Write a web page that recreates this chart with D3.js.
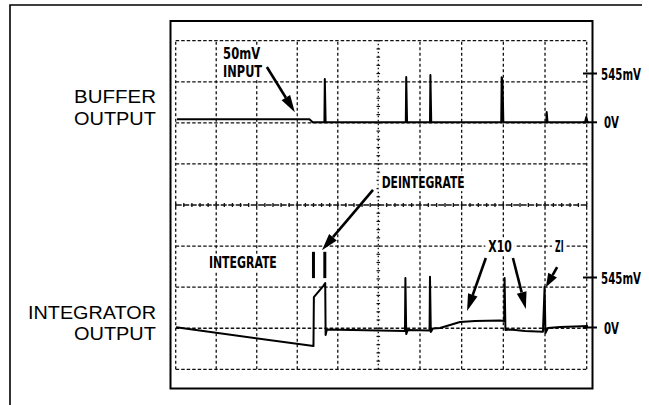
<!DOCTYPE html>
<html><head><meta charset="utf-8">
<script src="https://cdn.jsdelivr.net/npm/d3@7"></script>
<style>html,body{margin:0;padding:0;background:#fff;}svg{display:block;}</style>
</head><body>
<svg id="c" width="649" height="405"></svg>
<script>
// ---- data (time in divisions, voltage in mV) ----
const bufferTime = [0.03, 3.30, 3.38, 3.67, 3.68, 3.70, 5.66, 5.67, 5.69, 6.24, 6.25, 6.27, 7.95, 7.96, 7.98, 8.00, 9.03, 9.04, 9.06, 9.96, 9.99, 10.02, 10.05];
const bufferMv   = [35, 35, 0, 0, 484, 0, 0, 506, 0, 0, 528, 0, 0, 503, 470, 0, 0, 115, 0, 0, 60, 0, 0];
const integTime = [0.01, 3.40, 3.41, 3.64, 3.69, 3.70, 3.73, 5.64, 5.65, 5.67, 5.71, 6.23, 6.24, 6.26, 6.31, 6.48, 6.72, 6.96, 7.32, 7.92, 8.02, 8.03, 8.05, 8.16, 8.52, 8.95, 8.99, 9.01, 9.07, 9.36, 9.72, 10.03];
const integMv   = [2, -202, 332, 452, 485, -82, -22, -38, 540, -71, -27, -33, 554, -49, -11, -5, 27, 60, 71, 76, 71, 540, -27, -22, -38, -46, 445, -60, -5, 5, 11, 16];
const levelTicks = [0, 545];
const levelLabels = ["0V", "545mV"];
const channelNames = [["BUFFER", "OUTPUT"], ["INTEGRATOR", "OUTPUT"]];
const hDivs = d3.range(0, 11);
const vDivs = d3.range(0, 9);
// annotations in grid divisions: [tailT, tailDiv, tipT, tipDiv]
const arrows = [[2.25, 7.36, 2.94, 6.26], [4.87, 4.37, 3.61, 2.90], [7.58, 2.71, 7.13, 1.42], [8.23, 2.71, 8.54, 1.47], [9.29, 2.49, 9.02, 2.00]];
const markerBars = [3.40, 3.68];
const notes = [
  {text: "50mV", t: 1.17, d: 7.55, w: 37},
  {text: "INPUT", t: 1.17, d: 7.12, w: 39},
  {text: "DEINTEGRATE", t: 5.08, d: 4.41, w: 83},
  {text: "INTEGRATE", t: 0.82, d: 2.47, w: 68},
  {text: "X10", t: 7.64, d: 2.86, w: 23.5},
  {text: "ZI", t: 9.24, d: 2.86, w: 8.5}
];

const svg = d3.select("#c");
const gx = d3.scaleLinear().domain([0, 5, 10]).range([175.7, 378.3, 586.7]);
const gy = d3.scaleLinear().domain([0, 8]).range([369.3, 40.7]);
const yBuf = d3.scaleLinear().domain([0, 545]).range([122.3, 73.5]);
const yInt = d3.scaleLinear().domain([0, 545]).range([327.5, 277.5]);

const boldFont = "'Liberation Sans Narrow','Arial Narrow','DejaVu Sans Condensed',sans-serif";
const plainFont = "'Liberation Sans',Arial,sans-serif";
// text fitted to a width by horizontal scaling (keeps real bbox)
function fitText(x, y, str, width, font, size, weight, anchor) {
  const g = svg.append("g");
  const t = g.append("text").attr("x", 0).attr("y", 0)
    .attr("font-family", font).attr("font-size", size).attr("font-weight", weight).text(str);
  const natural = t.node().getComputedTextLength() || width;
  const k = width / natural;
  const x0 = anchor === "end" ? x - width : x;
  g.attr("transform", `translate(${x0},${y}) scale(${k},1)`);
  return g;
}

// outer page frame
svg.append("path").attr("d", "M10,405V5H642").attr("fill", "none").attr("stroke", "#000").attr("stroke-width", 1.6);
// scope frame
svg.append("rect").attr("x", 170.5).attr("y", 21).attr("width", 422).attr("height", 367.5)
  .attr("fill", "none").attr("stroke", "#000").attr("stroke-width", 2);

// grid
const grid = svg.append("g").attr("stroke", "#111").attr("fill", "none");
grid.selectAll("line.v").data(hDivs.filter(d => d !== 5)).join("line")
  .attr("x1", d => gx(d)).attr("x2", d => gx(d)).attr("y1", gy(0)).attr("y2", gy(8))
  .attr("stroke-width", 1.3).attr("stroke-dasharray", "3,2.5");
grid.selectAll("line.h").data(vDivs.filter(d => d !== 4)).join("line")
  .attr("y1", d => gy(d)).attr("y2", d => gy(d)).attr("x1", gx(0)).attr("x2", gx(10))
  .attr("stroke-width", 1.3).attr("stroke-dasharray", "3.5,2");
// center axes with minor ticks
grid.append("line").attr("x1", gx(5)).attr("x2", gx(5)).attr("y1", gy(0)).attr("y2", gy(8))
  .attr("stroke-width", 1.3).attr("stroke-dasharray", "1.5,2.5");
grid.append("line").attr("y1", gy(4)).attr("y2", gy(4)).attr("x1", gx(0)).attr("x2", gx(10))
  .attr("stroke-width", 1.6).attr("stroke-dasharray", "6,1.5");
const minor = d3.range(0, 50.5).map(i => i / 5);
grid.selectAll("line.mx").data(minor).join("line")
  .attr("x1", d => gx(d)).attr("x2", d => gx(d)).attr("y1", gy(4) - 2).attr("y2", gy(4) + 2).attr("stroke-width", 1.3);
const minorY = d3.range(0, 40.5).map(i => i / 5);
grid.selectAll("line.my").data(minorY).join("line")
  .attr("y1", d => gy(d)).attr("y2", d => gy(d)).attr("x1", gx(5) - 1.8).attr("x2", gx(5) + 1.8).attr("stroke-width", 1.2);

// traces
const lineBuf = d3.line().x((d, i) => gx(bufferTime[i])).y(d => yBuf(d));
const lineInt = d3.line().x((d, i) => gx(integTime[i])).y(d => yInt(d));
svg.append("path").attr("d", lineBuf(bufferMv)).attr("fill", "none").attr("stroke", "#000").attr("stroke-width", 2).attr("stroke-linejoin", "round");
svg.append("path").attr("d", lineInt(integMv)).attr("fill", "none").attr("stroke", "#000").attr("stroke-width", 2).attr("stroke-linejoin", "round");

// level ticks and labels on right
[yBuf, yInt].forEach((sc, ci) => {
  levelTicks.forEach((v, i) => {
    svg.append("line").attr("x1", 583).attr("x2", 597).attr("y1", sc(v)).attr("y2", sc(v)).attr("stroke", "#000").attr("stroke-width", 2);
    fitText(i ? 601 : 604, sc(v) + 6, levelLabels[i], i ? 40 : 15, boldFont, 15.5, "bold", "start");
  });
});

// channel names on left
const nameY = [[103.3, 125], [319.3, 340]];
const nameW = [[82, 82], [128, 82]];
channelNames.forEach((nm, ci) => nm.forEach((s, j) => {
  fitText(156, nameY[ci][j], s, nameW[ci][j], plainFont, 18.5, "normal", "end");
}));

// annotation labels with white backing
notes.forEach(n => {
  const x = gx(n.t), y = gy(n.d);
  svg.append("rect").attr("x", x - 3).attr("y", y - 14).attr("width", n.w + 6).attr("height", 17).attr("fill", "#fff");
  fitText(x, y, n.text, n.w, boldFont, 15.5, "bold", "start");
});

// integrate / deintegrate marker bars
svg.selectAll("line.bar").data(markerBars).join("line")
  .attr("x1", d => gx(d)).attr("x2", d => gx(d)).attr("y1", gy(2.86)).attr("y2", gy(2.22))
  .attr("stroke", "#000").attr("stroke-width", 3);

// arrows
arrows.forEach(a => {
  const x1 = gx(a[0]), y1 = gy(a[1]), x2 = gx(a[2]), y2 = gy(a[3]);
  const dx = x2 - x1, dy = y2 - y1, L = Math.hypot(dx, dy);
  const ux = dx / L, uy = dy / L;
  const hl = Math.min(17, L * 0.6), hw = 5;
  const bx = x2 - ux * hl, by = y2 - uy * hl;
  svg.append("line").attr("x1", x1).attr("y1", y1).attr("x2", bx).attr("y2", by)
    .attr("stroke", "#000").attr("stroke-width", 2.6);
  svg.append("path").attr("d", `M${x2},${y2}L${bx - uy * hw},${by + ux * hw}L${bx + uy * hw},${by - ux * hw}Z`).attr("fill", "#000");
});
</script>
</body></html>
